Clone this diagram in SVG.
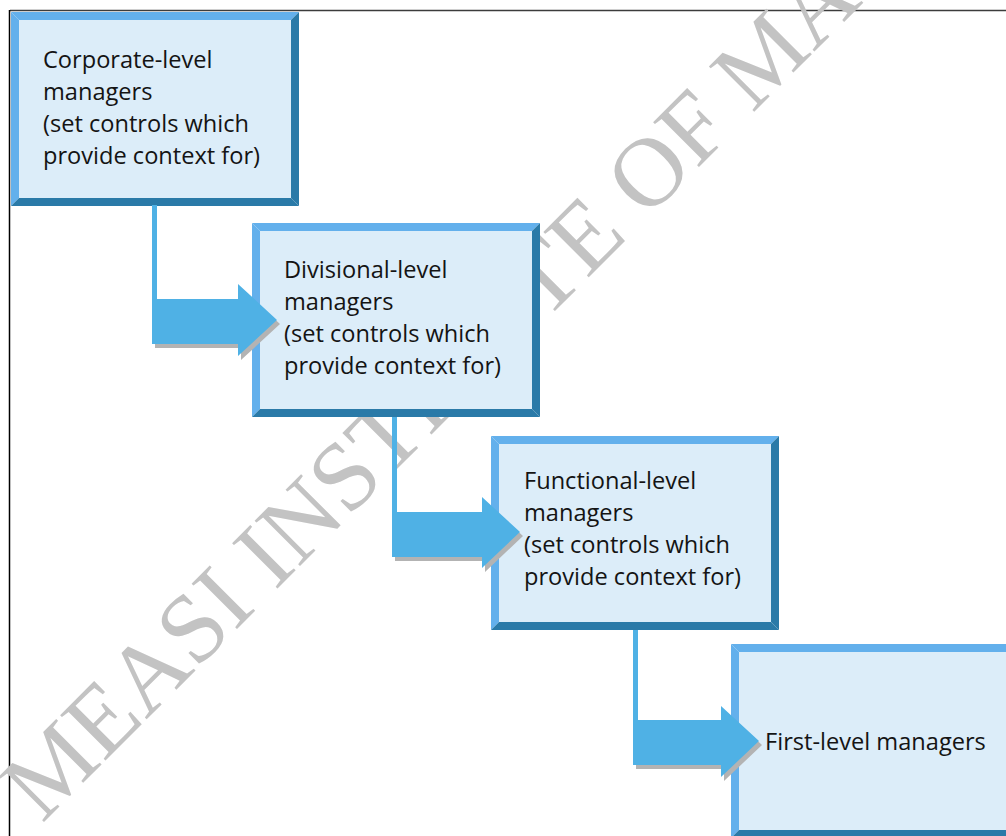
<svg xmlns="http://www.w3.org/2000/svg" xmlns:xlink="http://www.w3.org/1999/xlink" width="1006" height="836" viewBox="0 0 1006 836">
  <style>
    .label { font-family: "Open Sans", "Liberation Sans", sans-serif; font-size: 23.6px; fill: #141414; }
    .mark { font-family: "Liberation Serif", "Times New Roman", serif; font-size: 98px; fill: #c3c3c3; }
    .face { fill: #dcedf9; }
    .lite { fill: #63b0ec; }
    .dark { fill: #2a7aa8; }
    .arrow { fill: #4fb1e5; }
    .shadow { fill: #b3b3b3; }
    .frame { stroke-width: 1.5; fill: none; }
  </style>
  <defs>
    <!-- bevelled panel, 288 x 194, 8px bevel -->
    <g id="panel">
      <rect class="face" x="8" y="8" width="272" height="178"/>
      <polygon class="lite" points="0,0 288,0 280,8 8,8"/>
      <polygon class="lite" points="0,0 8,8 8,186 0,194"/>
      <polygon class="dark" points="288,0 288,194 280,186 280,8"/>
      <polygon class="dark" points="0,194 288,194 280,186 8,186"/>
    </g>
  </defs>

  <rect width="1006" height="836" fill="#ffffff"/>

  <!-- page frame -->
  <line class="frame" x1="10" y1="10.5" x2="1006" y2="10.5" stroke="#3c3c3c"/>
  <line class="frame" x1="9.5" y1="10" x2="9.5" y2="836" stroke="#000000"/>

  <text id="watermark" class="mark" transform="translate(42,824) rotate(-45)">MEASI INSTITUTE OF MA</text>

  <g id="corporate">
    <use xlink:href="#panel" transform="translate(11,12)"/>
    <text class="label" x="43" y="68">Corporate-level</text>
    <text class="label" x="43" y="100">managers</text>
    <text class="label" x="43" y="132">(set controls which</text>
    <text class="label" x="43" y="164">provide context for)</text>
  </g>

  <g id="divisional">
    <use xlink:href="#panel" transform="translate(252,223)"/>
    <text class="label" x="284" y="278">Divisional-level</text>
    <text class="label" x="284" y="310">managers</text>
    <text class="label" x="284" y="342">(set controls which</text>
    <text class="label" x="284" y="374">provide context for)</text>
  </g>

  <g id="functional">
    <use xlink:href="#panel" transform="translate(491,436)"/>
    <text class="label" x="524" y="489">Functional-level</text>
    <text class="label" x="524" y="521">managers</text>
    <text class="label" x="524" y="553">(set controls which</text>
    <text class="label" x="524" y="585">provide context for)</text>
  </g>

  <g id="first-level">
    <use xlink:href="#panel" transform="translate(731,644)"/>
    <text class="label" x="765" y="750">First-level managers</text>
  </g>

  <g id="connectors">
    <!-- corporate to divisional -->
    <path class="shadow" d="M155,303 H241 V288 L280,324 L241,360 V348 H155 Z"/>
    <rect class="arrow" x="152" y="205" width="5" height="95"/>
    <path class="arrow" d="M152,299 H238 V284 L277,320 L238,356 V344 H152 Z"/>
    <!-- divisional to functional -->
    <path class="shadow" d="M395,516 H485 V501 L523,536 L485,572 V561 H395 Z"/>
    <rect class="arrow" x="392" y="417" width="5" height="96"/>
    <path class="arrow" d="M392,512 H482 V497 L520,532 L482,568 V557 H392 Z"/>
    <!-- functional to first-level -->
    <path class="shadow" d="M636,724 H724 V710 L762,745 L724,781 V769 H636 Z"/>
    <rect class="arrow" x="633" y="630" width="5" height="91"/>
    <path class="arrow" d="M633,720 H721 V706 L759,741 L721,777 V765 H633 Z"/>
  </g>
</svg>
